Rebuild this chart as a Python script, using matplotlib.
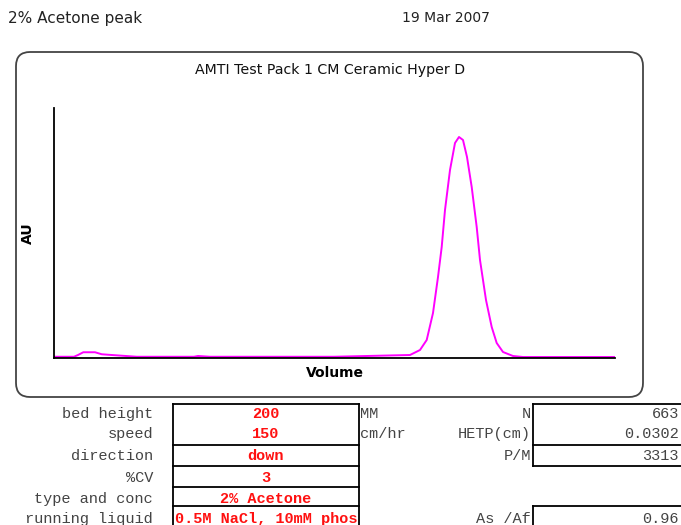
# 2% acetone peak test - AMTI Test Pack 1, CM Ceramic Hyper D
import matplotlib
matplotlib.use("Agg")
import matplotlib.pyplot as plt
from matplotlib.patches import FancyBboxPatch

# chromatogram trace (volume, AU)
volume = [0.0, 2.0, 2.4, 2.93, 4.1, 4.77, 5.77, 8.27, 14.0, 14.4, 15.6, 28.0,
          35.6, 36.6, 37.27, 37.9, 38.4, 38.77, 39.1, 39.6, 40.1, 40.5, 40.9,
          41.3, 41.77, 42.27, 42.6, 43.2, 43.77, 44.27, 44.9, 45.9, 46.9, 56.1]
au = [0.005, 0.005, 0.012, 0.023, 0.023, 0.015, 0.012, 0.005, 0.005, 0.008,
      0.005, 0.005, 0.012, 0.032, 0.072, 0.18, 0.324, 0.444, 0.592, 0.752,
      0.86, 0.884, 0.872, 0.804, 0.684, 0.524, 0.392, 0.232, 0.124, 0.06,
      0.024, 0.008, 0.004, 0.004]

# run parameters table
param_labels = ["bed height", "speed", "direction", "%CV", "type and conc", "running liquid"]
param_values = ["200", "150", "down", "3", "2% Acetone", "0.5M NaCl, 10mM phos"]
param_units = ["MM", "cm/hr"]
result_labels = ["N", "HETP(cm)", "P/M", "As /Af"]
result_values = ["663", "0.0302", "3313", "0.96"]

W, H = 681, 525
fig = plt.figure(figsize=(W / 100, H / 100), dpi=100)

# background layer in pixel coords for the page furniture
bg = fig.add_axes([0, 0, 1, 1])
bg.set_xlim(0, W)
bg.set_ylim(H, 0)
bg.axis("off")

bg.text(8, 18, "2% Acetone peak", fontsize=11, va="center", ha="left", color="#222")
bg.text(402, 18, "19 Mar 2007", fontsize=10, va="center", ha="left", color="#222")

box = FancyBboxPatch((16, 52), 627, 345, boxstyle="round,pad=0,rounding_size=14",
                     fc="none", ec="#444", lw=1.3)
bg.add_patch(box)
bg.text(330, 70, "AMTI Test Pack 1 CM Ceramic Hyper D", fontsize=10.2,
        ha="center", va="center", color="#111")

# left table
mono = "Liberation Mono"
row_y = [414, 434, 456, 477.5, 499, 519]
for lab, val, y in zip(param_labels, param_values, row_y):
    bg.text(153, y, lab, family=mono, fontsize=11, ha="right", va="center", color="#444")
    bg.text(266, y, val, family=mono, fontsize=11, ha="center", va="center",
            color="#ff1010", fontweight="bold")
for u, y in zip(param_units, row_y):
    bg.text(360, y, u, family=mono, fontsize=11, ha="left", va="center", color="#444")

for y in [404, 445, 466, 486.5, 506]:
    bg.plot([172.5, 359], [y, y], color="k", lw=1.3)
bg.plot([172.5, 172.5], [404, 530], color="k", lw=1.3)
bg.plot([359, 359], [404, 530], color="k", lw=1.3)

# right table
res_y = [414, 434, 456, 519]
for lab, val, y in zip(result_labels, result_values, res_y):
    bg.text(531, y, lab, family=mono, fontsize=11, ha="right", va="center", color="#444")
    bg.text(679, y, val, family=mono, fontsize=11, ha="right", va="center", color="#444")
for y in [404, 445, 466, 506]:
    bg.plot([532.5, 690], [y, y], color="k", lw=1.3)
bg.plot([532.5, 532.5], [404, 466], color="k", lw=1.3)
bg.plot([532.5, 532.5], [506, 530], color="k", lw=1.3)

# chromatogram axes
ax = fig.add_axes([54 / W, (H - 358) / H, (615 - 54) / W, (358 - 108) / H])
ax.patch.set_alpha(0)
ax.plot(volume, au, color="#ff00ff", lw=1.4)
ax.set_xlim(0, 56.1)
ax.set_ylim(0, 1)
ax.set_xticks([])
ax.set_yticks([])
ax.spines["top"].set_visible(False)
ax.spines["right"].set_visible(False)
ax.spines["left"].set_linewidth(1.3)
ax.spines["bottom"].set_linewidth(1.3)
ax.set_xlabel("Volume", fontweight="bold", fontsize=10, labelpad=6)
ax.set_ylabel("AU", fontweight="bold", fontsize=10, labelpad=14)

fig.savefig("out.png", dpi=100)
